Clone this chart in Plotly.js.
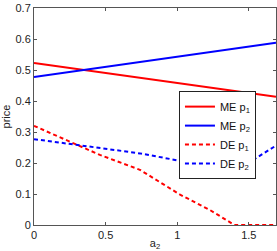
<!DOCTYPE html>
<html><head><meta charset="utf-8">
<script src="https://cdn.plot.ly/plotly-3.0.1.min.js"></script>
<style>body{margin:0;padding:0;background:#fff}#c{width:277px;height:251px}</style>
</head><body><div id="c"></div>
<script>
const meX = [0, 0.5, 1.0, 1.5, 1.69];
const meP1 = [0.523, 0.491, 0.458, 0.426, 0.414];
const meP2 = [0.477, 0.510, 0.543, 0.576, 0.588];
const deX1 = [0, 0.3, 0.46, 0.74, 1.02, 1.23, 1.40, 1.69];
const deP1 = [0.320, 0.260, 0.226, 0.178, 0.098, 0.048, 0.0, 0.0];
const deX2 = [0, 0.3, 0.46, 0.74, 1.02, 1.23, 1.40, 1.53, 1.69];
const deP2 = [0.277, 0.258, 0.247, 0.231, 0.207, 0.190, 0.177, 0.210, 0.256];
const names = ['ME p<sub>1</sub>', 'ME p<sub>2</sub>', 'DE p<sub>1</sub>', 'DE p<sub>2</sub>'];
const xTicks = [0, 0.5, 1, 1.5];
const yTicks = [0, 0.1, 0.2, 0.3, 0.4, 0.5, 0.6, 0.7];

const red = '#ff0000', blue = '#0000ff';
const traces = [
  {x: meX, y: meP1, name: names[0], mode: 'lines', line: {color: red, width: 2}},
  {x: meX, y: meP2, name: names[1], mode: 'lines', line: {color: blue, width: 2}},
  {x: deX1, y: deP1, name: names[2], mode: 'lines', line: {color: red, width: 2, dash: '4px,3px'}},
  {x: deX2, y: deP2, name: names[3], mode: 'lines', line: {color: blue, width: 2, dash: '4px,3px'}}
];
const ax = {
  showgrid: false, zeroline: false, showline: true, mirror: 'ticks',
  linecolor: '#555', linewidth: 1, ticks: 'inside', ticklen: 3, tickcolor: '#555',
  tickfont: {family: 'Liberation Sans, Arial, sans-serif', size: 11, color: '#222'}
};
const layout = {
  width: 277, height: 251,
  margin: {l: 34, r: 1, t: 8, b: 26},
  paper_bgcolor: '#fff', plot_bgcolor: '#fff',
  showlegend: true,
  xaxis: Object.assign({}, ax, {range: [0, 1.69], tickvals: xTicks, ticktext: ['0','0.5','1','1.5'],
    title: {text: 'a<sub>2</sub>', standoff: 0, font: {family: 'Liberation Sans, Arial, sans-serif', size: 11, color: '#222'}}}),
  yaxis: Object.assign({}, ax, {range: [0, 0.7], tickvals: yTicks, ticktext: ['0','0.1','0.2','0.3','0.4','0.5','0.6','0.7'],
    title: {text: 'price', standoff: 2, font: {family: 'Liberation Sans, Arial, sans-serif', size: 11, color: '#222'}}}),
  legend: {x: 0.599, y: 0.617, xanchor: 'left', yanchor: 'top', bgcolor: '#fff',
    bordercolor: '#222', borderwidth: 1, itemwidth: 30, tracegroupgap: 0,
    font: {family: 'Liberation Sans, Arial, sans-serif', size: 11, color: '#111'}}
};
Plotly.newPlot('c', traces, layout, {displayModeBar: false, staticPlot: true});
</script></body></html>
